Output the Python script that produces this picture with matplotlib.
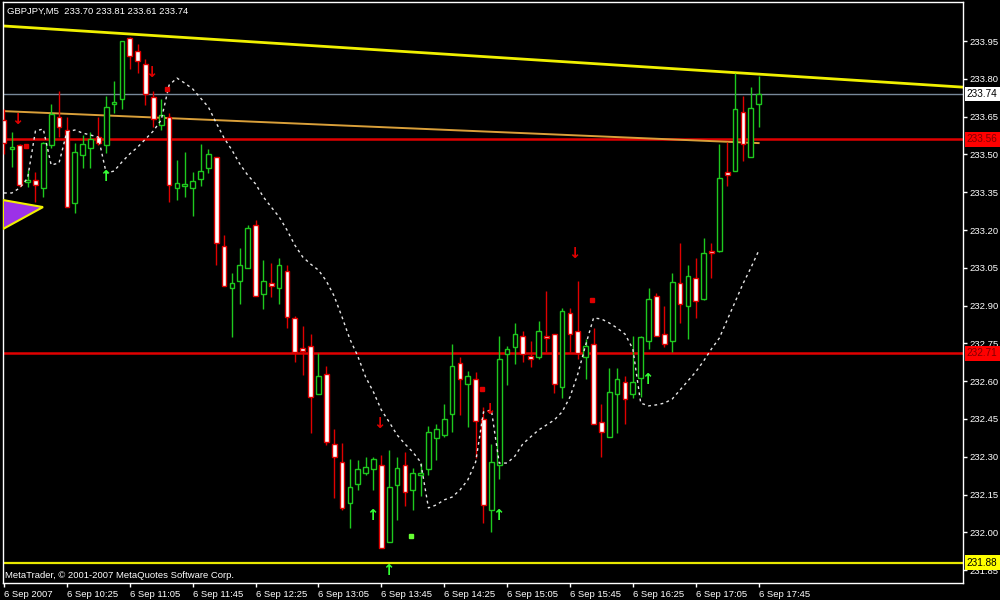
import matplotlib
matplotlib.use("Agg")
import matplotlib.pyplot as plt
from matplotlib.patches import Polygon

# GBPJPY M5, 6 Sep 2007, bars 09:45 .. 17:45
opens = [233.636, 233.521, 233.537, 233.39, 233.40, 233.367, 233.537, 233.648, 233.597, 233.307,
         233.498, 233.525, 233.57, 233.537, 233.70, 233.72, 233.962, 233.91, 233.859, 233.728,
         233.617, 233.648, 233.367, 233.375, 233.367, 233.402, 233.446, 233.49, 233.137, 232.97,
         232.998, 233.05, 233.22, 232.946, 232.99, 232.97, 233.037, 232.85, 232.73, 232.74,
         232.55, 232.629, 232.35, 232.28, 232.117, 232.192, 232.236, 232.25, 232.267, 231.962,
         232.188, 232.267, 232.168, 232.228, 232.25, 232.374, 232.386, 232.47, 232.672, 232.589,
         232.61, 232.45, 232.09, 232.267, 232.708, 232.736, 232.78, 232.70, 232.696, 232.78,
         232.787, 232.577, 232.87, 232.80, 232.696, 232.748, 232.438, 232.378, 232.55, 232.597,
         232.55, 232.613, 232.76, 232.938, 232.787, 232.76, 232.99, 232.898, 233.01, 232.926,
         233.117, 233.117, 233.43, 233.434, 233.668, 233.49, 233.70]
highs = [233.68, 233.589, 233.54, 233.44, 233.43, 233.55, 233.70, 233.75, 233.648, 233.545,
         233.577, 233.59, 233.65, 233.73, 233.79, 233.95, 233.965, 233.94, 233.88, 233.75,
         233.72, 233.664, 233.478, 233.51, 233.43, 233.54, 233.52, 233.49, 233.18, 233.03,
         233.13, 233.22, 233.24, 233.08, 233.07, 233.09, 233.06, 232.86, 232.82, 232.787,
         232.71, 232.66, 232.41, 232.355, 232.29, 232.287, 232.30, 232.30, 232.307, 232.327,
         232.30, 232.319, 232.255, 232.275, 232.422, 232.43, 232.51, 232.747, 232.696, 232.64,
         232.636, 232.498, 232.35, 232.78, 232.74, 232.83, 232.80, 232.76, 232.84, 232.958,
         232.787, 232.89, 232.89, 232.998, 232.767, 232.81, 232.51, 232.652, 232.652, 232.62,
         232.78, 232.78, 232.97, 232.95, 232.90, 233.03, 233.148, 233.06, 233.09, 233.168,
         233.148, 233.54, 233.55, 233.823, 233.73, 233.767, 233.81]
lows = [233.50, 233.45, 233.37, 233.37, 233.31, 233.33, 233.525, 233.57, 233.29, 233.267,
        233.446, 233.446, 233.537, 233.506, 233.664, 233.68, 233.84, 233.823, 233.696, 233.61,
        233.597, 233.31, 233.32, 233.33, 233.256, 233.375, 233.426, 233.06, 232.978, 232.775,
        232.906, 233.05, 232.94, 232.886, 232.934, 232.906, 232.81, 232.676, 232.625, 232.394,
        232.55, 232.347, 232.137, 232.09, 232.017, 232.168, 232.228, 232.168, 231.938, 231.962,
        232.05, 232.105, 232.09, 232.145, 232.228, 232.287, 232.378, 232.398, 232.466, 232.418,
        232.295, 232.037, 232.002, 232.212, 232.585, 232.668, 232.676, 232.656, 232.688, 232.716,
        232.553, 232.533, 232.716, 232.688, 232.61, 232.43, 232.30, 232.378, 232.394, 232.43,
        232.533, 232.537, 232.728, 232.78, 232.736, 232.716, 232.83, 232.767, 232.85, 232.922,
        233.01, 233.113, 233.375, 233.434, 233.474, 233.49, 233.61]
closes = [233.545, 233.529, 233.379, 233.40, 233.38, 233.545, 233.66, 233.609, 233.29, 233.51,
          233.54, 233.56, 233.545, 233.688, 233.708, 233.95, 233.89, 233.87, 233.74, 233.64,
          233.656, 233.379, 233.387, 233.38, 233.394, 233.434, 233.50, 233.148, 232.978, 232.99,
          233.06, 233.208, 232.94, 232.998, 232.978, 233.06, 232.855, 232.716, 232.72, 232.537,
          232.62, 232.359, 232.30, 232.097, 232.18, 232.25, 232.26, 232.29, 231.938, 232.18,
          232.255, 232.16, 232.236, 232.236, 232.398, 232.41, 232.45, 232.66, 232.61, 232.62,
          232.442, 232.109, 232.28, 232.69, 232.728, 232.787, 232.708, 232.69, 232.80, 232.77,
          232.589, 232.879, 232.787, 232.712, 232.74, 232.43, 232.398, 232.557, 232.61, 232.53,
          232.597, 232.775, 232.926, 232.78, 232.748, 232.994, 232.906, 233.017, 232.918, 233.109,
          233.11, 233.406, 233.418, 233.68, 233.54, 233.684, 233.74]

# dotted moving line, one value per bar
ma_line = [233.347, 233.347, 233.367, 233.406, 233.593, 233.601, 233.458, 233.466, 233.589, 233.597,
           233.585, 233.577, 233.569, 233.426, 233.434, 233.470, 233.502, 233.529, 233.561, 233.593,
           233.637, 233.775, 233.803, 233.783, 233.760, 233.724, 233.688, 233.625, 233.565, 233.517,
           233.462, 233.418, 233.383, 233.331, 233.291, 233.252, 233.200, 233.140, 233.093, 233.065,
           233.041, 232.998, 232.938, 232.855, 232.767, 232.700, 232.617, 232.557, 232.486, 232.438,
           232.387, 232.351, 232.319, 232.279, 232.097, 232.109, 232.129, 232.140, 232.168, 232.208,
           232.279, 232.478, 232.486, 232.275, 232.275, 232.303, 232.351, 232.379, 232.406, 232.426,
           232.446, 232.478, 232.537, 232.629, 232.744, 232.851, 232.847, 232.831, 232.811, 232.787,
           232.728, 232.513, 232.502, 232.506, 232.513, 232.529, 232.565, 232.601, 232.637, 232.680,
           232.728, 232.771, 232.843, 232.914, 232.986, 233.049, 233.117]

time_labels = ["6 Sep 2007", "6 Sep 10:25", "6 Sep 11:05", "6 Sep 11:45", "6 Sep 12:25",
               "6 Sep 13:05", "6 Sep 13:45", "6 Sep 14:25", "6 Sep 15:05", "6 Sep 15:45",
               "6 Sep 16:25", "6 Sep 17:05", "6 Sep 17:45"]
price_ticks = [231.85, 232.00, 232.15, 232.30, 232.45, 232.60, 232.75, 232.90,
               233.05, 233.20, 233.35, 233.50, 233.65, 233.80, 233.95]

# trend lines (bar, price) end points
yellow_trend = [(-0.13, 234.01), (122.0, 233.767)]
orange_trend = [(-0.13, 233.672), (96.0, 233.545)]
bid_price = 233.74
red_levels = [233.56, 232.71]
yellow_level = 231.88

# signal markers (bar, price)
down_x = [1.65, 18.7, 47.7, 61.7, 72.6]
down_y = [233.640, 233.827, 232.434, 232.486, 233.105]
up_x = [12.85, 46.8, 48.85, 62.85, 81.8]
up_y = [233.414, 232.065, 231.847, 232.065, 232.605]
red_dot_x = [2.8, 20.7, 60.8, 74.8]
red_dot_y = [233.533, 233.760, 232.569, 232.922]
green_dot_x = [51.8]
green_dot_y = [231.986]
triangle = [(-0.13, 233.319), (4.96, 233.291), (-0.13, 233.204)]

bull_col = "#1ec81e"
bear_col = "#e00000"

fig = plt.figure(figsize=(10, 6), dpi=100, facecolor="black")
ax = fig.add_axes([0.003, 17 / 600, 0.96, 581 / 600], facecolor="black")

# levels and trend lines
ax.axhline(bid_price, color="#778899", lw=1, zorder=1)
for lv in red_levels:
    ax.axhline(lv, color="#e00000", lw=1.8, zorder=1)
ax.axhline(yellow_level, color="#e8e800", lw=1.6, zorder=1)
ax.plot([p[0] for p in yellow_trend], [p[1] for p in yellow_trend], color="#f0f000", lw=2, zorder=2)
ax.plot([p[0] for p in orange_trend], [p[1] for p in orange_trend], color="#daa03a", lw=1.4, zorder=2)

ax.add_patch(Polygon(triangle, closed=True, fc="#9c31e8", ec="#f0f000", lw=1.5, zorder=3))

# candles
n = len(opens)
for i in range(n):
    o, h, l, c = opens[i], highs[i], lows[i], closes[i]
    bull = c >= o
    col = bull_col if bull else bear_col
    ax.vlines(i, l, h, color=col, lw=1, zorder=4)
    bot = min(o, c)
    hgt = max(abs(c - o), 0.008)
    ax.bar(i, hgt, bottom=bot, width=0.6,
           color="black" if bull else "white", edgecolor=col, lw=1, zorder=5)

ax.plot(range(n), ma_line, color="#e6e6e6", lw=1, linestyle=(0, (2, 2.5)), zorder=6)

for x, y in zip(down_x, down_y):
    ax.text(x, y, "\u2193", color="#e00000", fontsize=10.5, fontweight="heavy",
            ha="center", va="center", family="DejaVu Sans", zorder=7)
for x, y in zip(up_x, up_y):
    ax.text(x, y, "\u2191", color="#33ff33", fontsize=10.5, fontweight="heavy",
            ha="center", va="center", family="DejaVu Sans", zorder=7)
ax.plot(red_dot_x, red_dot_y, "s", color="#e00000", ms=2.2, zorder=7)
ax.plot(green_dot_x, green_dot_y, "s", color="#66ff33", ms=2.2, zorder=7)

ax.set_xlim(-0.127, 122.0)
ax.set_ylim(231.799, 234.105)

for sp in ax.spines.values():
    sp.set_color("white")
    sp.set_linewidth(1)

ax.yaxis.tick_right()
ax.set_yticks(price_ticks)
ax.set_yticklabels([f"{p:.2f}" for p in price_ticks])
ax.tick_params(axis="y", colors="white", length=3, width=1, pad=2, labelsize=6.8)
for t in ax.get_yticklabels():
    t.set_family("Liberation Sans")

ax.set_xticks([8 * k for k in range(len(time_labels))])
ax.set_xticklabels(time_labels, ha="left")
ax.tick_params(axis="x", colors="white", length=3, width=1, pad=2, labelsize=6.8)
for t in ax.get_xticklabels():
    t.set_family("Liberation Sans")

# price tags on the right scale
tr = ax.get_yaxis_transform()
tags = [(bid_price, "white", "black"), (red_levels[0], "#ff0000", "#800000"),
        (red_levels[1], "#ff0000", "#800000"), (yellow_level, "#ffff00", "black")]
for val, fc, tc in tags:
    ax.text(1.004, val, f"{val:.2f}", transform=tr, color=tc, fontsize=7.2, family="Liberation Sans",
            ha="left", va="center", clip_on=False, zorder=10,
            bbox=dict(boxstyle="square,pad=0.22", fc=fc, ec="none"))

fig.text(0.007, 1 - 11 / 600, "GBPJPY,M5  233.70 233.81 233.61 233.74", color="white",
         fontsize=6.8, family="Liberation Sans", va="center", ha="left")
fig.text(0.005, 1 - 575 / 600, "MetaTrader, \u00a9 2001-2007 MetaQuotes Software Corp.", color="white",
         fontsize=6.8, family="Liberation Sans", va="center", ha="left")

fig.savefig("out.png", dpi=100, facecolor="black")
